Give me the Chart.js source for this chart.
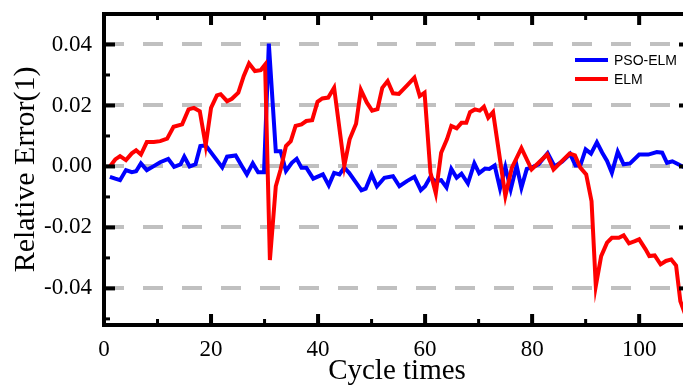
<!DOCTYPE html>
<html>
<head>
<meta charset="utf-8">
<script src="https://cdn.jsdelivr.net/npm/chart.js@4.4.1/dist/chart.umd.min.js"></script>
<style>
  html, body { margin: 0; padding: 0; background: #fff; overflow: hidden; width: 683px; height: 389px; }
  canvas { display: block; }
  #note { position: absolute; left: 120px; top: 250px; font: 11px monospace; color: #fff; }
</style>
</head>
<body>
<canvas id="errorChart" width="700" height="389"></canvas>
<div id="note"></div>
<script>
// values
const psoCycles = [1.1, 2.1, 3.0, 4.1, 5.2, 6.0, 6.9, 8.0, 9.3, 10.5, 12.0, 13.1, 14.3, 15.0, 16.0, 17.1, 18.0, 19.0,
  22.1, 23.0, 24.6, 25.8, 26.7, 27.8, 28.8, 29.9, 30.8, 32.1, 33.0, 34.0, 35.1, 36.0, 36.9, 37.8, 39.1, 40.9, 42.0,
  43.0, 44.0, 44.9, 45.8, 47.1, 48.1, 48.9, 50.0, 51.0, 52.4, 54.0, 55.2, 56.6, 58.0, 59.2, 60.0, 61.0, 61.8, 63.0,
  64.0, 64.9, 65.9, 66.8, 68.0, 69.2, 70.1, 71.2, 72.0, 73.0, 74.0, 75.0, 76.0, 77.1, 78.0, 79.0, 79.9, 81.2, 82.9,
  84.2, 85.6, 87.1, 88.1, 89.0, 90.0, 91.0, 92.1, 93.1, 94.0, 94.9, 96.0, 97.1, 98.3, 100.0, 101.7, 103.3, 104.3,
  105.2, 106.2, 107.3, 108.5, 109.5];
const psoError = [-0.0034, -0.0040, -0.0045, -0.0012, -0.0019, -0.0016, 0.0010, -0.0012, 0.0001, 0.0014, 0.0025, -0.0001, 0.0007, 0.0032, 0.0000, 0.0007, 0.0067, 0.0069,
  -0.0003, 0.0032, 0.0036, 0.0000, -0.0026, 0.0010, -0.0019, -0.0019, 0.0403, 0.0050, 0.0050, -0.0015, 0.0012, 0.0025, -0.0004, -0.0004, -0.0040, -0.0026, -0.0062,
  -0.0021, -0.0026, -0.0004, -0.0021, -0.0053, -0.0078, -0.0073, -0.0026, -0.0065, -0.0037, -0.0032, -0.0065, -0.0048, -0.0034, -0.0078, -0.0065, -0.0034, -0.0048, -0.0045,
  -0.0069, -0.0008, -0.0037, -0.0024, -0.0056, 0.0010, -0.0022, -0.0007, -0.0008, 0.0003, -0.0072, -0.0002, -0.0075, 0.0003, -0.0070, -0.0008, -0.0004, 0.0007, 0.0044,
  0.0000, 0.0016, 0.0041, 0.0003, 0.0003, 0.0056, 0.0042, 0.0079, 0.0045, 0.0018, -0.0021, 0.0048, 0.0007, 0.0010, 0.0039, 0.0039, 0.0047, 0.0045,
  0.0012, 0.0017, 0.0007, -0.0004, -0.0006];

const elmCycles = [1.1, 2.1, 3.0, 4.1, 5.2, 6.0, 6.9, 8.0, 9.3, 10.5, 11.8, 13.0, 14.6, 15.8, 16.8, 17.9, 19.0, 20.0,
  21.1, 21.8, 23.0, 23.9, 25.1, 26.1, 27.1, 28.2, 29.3, 30.1, 31.0, 32.1, 33.0, 34.0, 34.9, 35.8, 36.9, 37.8, 38.9,
  39.9, 40.8, 41.9, 43.0, 44.9, 45.9, 47.1, 48.0, 49.1, 50.1, 51.1, 52.0, 53.0, 54.0, 55.1, 56.6, 58.0, 59.0, 59.9,
  61.0, 62.0, 63.0, 64.1, 64.9, 65.9, 66.8, 67.7, 68.4, 69.3, 70.2, 71.0, 71.8, 72.7, 75.0, 76.2, 78.0, 79.9, 82.8,
  84.0, 87.0, 88.0, 89.0, 90.1, 91.1, 91.9, 92.9, 94.0, 94.9, 96.2, 97.1, 98.1, 99.2, 100.0, 101.2, 101.9, 102.9,
  104.0, 105.0, 106.0, 106.9, 107.7, 108.5, 109.3];
const elmError = [0.0000, 0.0023, 0.0034, 0.0021, 0.0043, 0.0053, 0.0039, 0.0080, 0.0080, 0.0083, 0.0091, 0.0130, 0.0138, 0.0187, 0.0192, 0.0181, 0.0069, 0.0192,
  0.0233, 0.0237, 0.0214, 0.0222, 0.0242, 0.0296, 0.0338, 0.0313, 0.0316, 0.0334, -0.0307, -0.0065, -0.0010, 0.0067, 0.0083, 0.0133, 0.0138, 0.0149, 0.0152,
  0.0212, 0.0223, 0.0226, 0.0258, 0.0002, 0.0089, 0.0140, 0.0251, 0.0210, 0.0183, 0.0188, 0.0258, 0.0280, 0.0240, 0.0238, 0.0265, 0.0291, 0.0231, 0.0242,
  -0.0020, -0.0088, 0.0045, 0.0090, 0.0133, 0.0125, 0.0143, 0.0143, 0.0178, 0.0187, 0.0183, 0.0196, 0.0160, 0.0178, -0.0097, -0.0005, 0.0060, -0.0010, 0.0039,
  -0.0010, 0.0042, 0.0036, -0.0004, -0.0026, -0.0114, -0.0392, -0.0294, -0.0250, -0.0234, -0.0234, -0.0226, -0.0252, -0.0245, -0.0239, -0.0272, -0.0294, -0.0292,
  -0.0321, -0.0310, -0.0305, -0.0325, -0.0442, -0.0480, -0.0505];

const xTicks = [0, 20, 40, 60, 80, 100];
const xMinorTicks = [10, 30, 50, 70, 90];
const yTicks = [-0.04, -0.02, 0, 0.02, 0.04];
const yMinorTicks = [-0.05, -0.03, -0.01, 0.01, 0.03];

const toPoints = (xs, ys) => xs.map((c, i) => ({ x: c, y: ys[i] }));

// black frame with inward ticks on all four sides
const frame = {
  id: 'frame',
  afterDraw(chart) {
    const { ctx, chartArea: a, scales: { x, y } } = chart;
    const w = a.right - a.left, h = a.bottom - a.top;
    ctx.save();
    ctx.fillStyle = '#000';
    ctx.fillRect(a.left - 2, a.top - 2, w + 4, 4);
    ctx.fillRect(a.left - 2, a.bottom - 2, w + 4, 4);
    ctx.fillRect(a.left - 2, a.top - 2, 4, h + 4);
    ctx.fillRect(a.right - 2, a.top - 2, 4, h + 4);
    const xt = (v, len, lw) => {
      const px = x.getPixelForValue(v) - lw / 2;
      ctx.fillRect(px, a.bottom - len, lw, len);
      ctx.fillRect(px, a.top, lw, len);
    };
    const yt = (v, len, lw) => {
      const py = y.getPixelForValue(v) - lw / 2;
      ctx.fillRect(a.left, py, len, lw);
      ctx.fillRect(a.right - len, py, len, lw);
    };
    xTicks.forEach(v => xt(v, 11, 4));
    yTicks.forEach(v => yt(v, 11, 4));
    xMinorTicks.forEach(v => xt(v, 6, 3));
    yMinorTicks.forEach(v => yt(v, 6, 3));
    ctx.restore();
  }
};

// legend sits inside the plot, top right
const insideLegend = {
  id: 'insideLegend',
  afterDraw(chart) {
    const ctx = chart.ctx;
    ctx.save();
    ctx.font = '14px "Liberation Sans", Arial, sans-serif';
    ctx.textBaseline = 'middle';
    chart.data.datasets.forEach((ds, i) => {
      const yy = 60 + i * 19;
      ctx.fillStyle = ds.borderColor;
      ctx.fillRect(575, yy - 2, 33, 4);
      ctx.fillStyle = '#000';
      ctx.fillText(ds.label, 614, yy + 1);
    });
    ctx.restore();
    // touch the page after drawing so the finished canvas gets repainted
    document.getElementById('note').textContent = '.';
  }
};

new Chart(document.getElementById('errorChart'), {
  type: 'line',
  data: {
    datasets: [
      { label: 'PSO-ELM', data: toPoints(psoCycles, psoError), borderColor: '#0000ff', borderWidth: 4, pointRadius: 0, tension: 0, order: 1 },
      { label: 'ELM', data: toPoints(elmCycles, elmError), borderColor: '#ff0000', borderWidth: 4, pointRadius: 0, tension: 0, order: 0 }
    ]
  },
  options: {
    responsive: false,
    animation: false,
    devicePixelRatio: 1,
    layout: { padding: { top: 14, right: 10, left: 0, bottom: 0 } },
    plugins: { legend: { display: false }, tooltip: { enabled: false } },
    scales: {
      x: {
        type: 'linear',
        min: 0,
        max: 109.5,
        afterBuildTicks: s => { s.ticks = xTicks.map(v => ({ value: v })); },
        afterFit: s => { s.height = 64; },
        grid: { display: false, drawTicks: false },
        border: { display: false },
        ticks: { color: '#000', font: { family: 'Liberation Serif', size: 23 }, padding: 11, maxRotation: 0, autoSkip: false },
        title: { display: true, text: 'Cycle times', color: '#000', font: { family: 'Liberation Serif', size: 29, lineHeight: 1 }, padding: { top: 0, bottom: 3 } }
      },
      y: {
        min: -0.052,
        max: 0.05,
        afterBuildTicks: s => { s.ticks = yTicks.map(v => ({ value: v })); },
        afterFit: s => { s.width = 104; },
        grid: { color: '#c0c0c0', lineWidth: 4, drawTicks: true, tickLength: 12, tickColor: 'rgba(0,0,0,0)' },
        border: { display: false, dash: [20, 19] },
        ticks: { color: '#000', font: { family: 'Liberation Serif', size: 23 }, padding: 0, callback: v => v.toFixed(2) },
        title: { display: true, text: 'Relative Error(1)', color: '#000', font: { family: 'Liberation Serif', size: 30, lineHeight: 1 }, padding: { top: 11, bottom: 0 } }
      }
    }
  },
  plugins: [frame, insideLegend]
});
</script>
</body>
</html>
